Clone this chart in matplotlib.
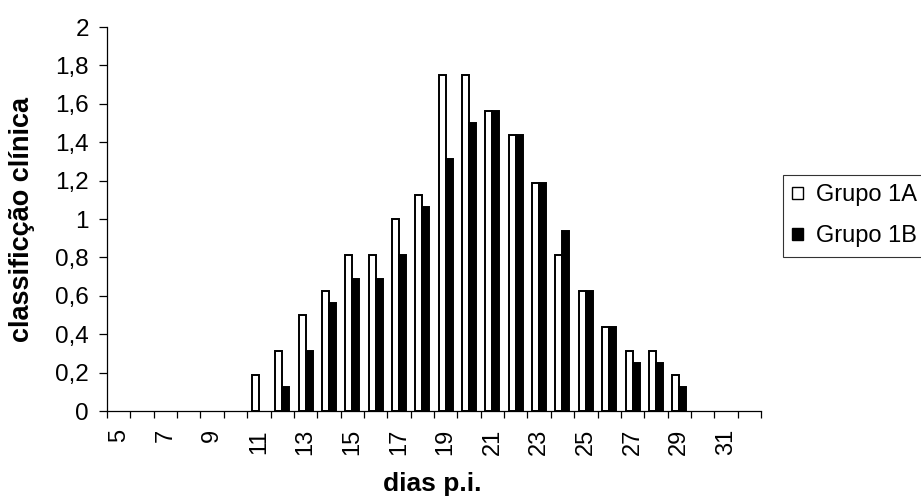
import matplotlib
matplotlib.use('Agg')
import matplotlib.pyplot as plt
from matplotlib.patches import Patch
import numpy as np

plt.rcParams['font.family'] = ['Liberation Sans', 'DejaVu Sans']

dias = list(range(5, 33))
grupo_1a = [0, 0, 0, 0, 0, 0, 0.1875, 0.3125, 0.5, 0.625, 0.8125, 0.8125, 1.0, 1.125,
            1.75, 1.75, 1.5625, 1.4375, 1.1875, 0.8125, 0.625, 0.4375, 0.3125, 0.3125,
            0.1875, 0, 0, 0]
grupo_1b = [0, 0, 0, 0, 0, 0, 0, 0.125, 0.3125, 0.5625, 0.6875, 0.6875, 0.8125, 1.0625,
            1.3125, 1.5, 1.5625, 1.4375, 1.1875, 0.9375, 0.625, 0.4375, 0.25, 0.25,
            0.125, 0, 0, 0]
yticks = [0, 0.2, 0.4, 0.6, 0.8, 1, 1.2, 1.4, 1.6, 1.8, 2]
ytick_labels = ['0', '0,2', '0,4', '0,6', '0,8', '1', '1,2', '1,4', '1,6', '1,8', '2']

fig = plt.figure(figsize=(9.21, 4.98), dpi=100)
ax = fig.add_axes([107 / 921, 1 - 411 / 498, (761 - 107) / 921, (411 - 27) / 498])

x = np.arange(len(dias))
w = 0.3
# no outline for empty days
lw_a = [1.4 if v > 0 else 0 for v in grupo_1a]
lw_b = [1.4 if v > 0 else 0 for v in grupo_1b]
ax.bar(x - w / 2, grupo_1a, w, color='white', edgecolor='black', linewidth=lw_a)
ax.bar(x + w / 2, grupo_1b, w, color='black', edgecolor='black', linewidth=lw_b)

ax.set_xlim(-0.5, len(dias) - 0.5)
ax.set_ylim(0, 2)
ax.spines['top'].set_visible(False)
ax.spines['right'].set_visible(False)
ax.spines['left'].set_linewidth(0.9)
ax.spines['bottom'].set_linewidth(0.9)

ax.set_yticks(yticks)
ax.set_yticklabels(ytick_labels, fontsize=17.5)
ax.tick_params(axis='y', direction='out', length=6, width=0.9, pad=7)

lab_pos = [i for i, d in enumerate(dias) if d % 2 == 1]
ax.set_xticks(lab_pos)
ax.set_xticklabels([str(dias[i]) for i in lab_pos], rotation=90, fontsize=17)
ax.tick_params(axis='x', which='major', length=0, pad=13)
ax.set_xticks(np.arange(len(dias) + 1) - 0.5, minor=True)
ax.tick_params(axis='x', which='minor', direction='out', length=5, width=0.9)

ax.set_xlabel('dias p.i.', fontsize=19, fontweight='bold')
ax.xaxis.set_label_coords(0.498, -(472 - 411) / 384)
ax.set_ylabel('classificção clínica', fontsize=19.5, fontweight='bold')
ax.yaxis.set_label_coords(-(107 - 35) / 654, 0.5)

handles = [Patch(facecolor='white', edgecolor='black', linewidth=1.0, label='Grupo 1A'),
           Patch(facecolor='black', edgecolor='black', linewidth=1.0, label='Grupo 1B')]
leg = fig.legend(handles=handles, loc='upper left', bbox_to_anchor=(783 / 921, 1 - 175 / 498),
                 fontsize=17, frameon=True, fancybox=False, edgecolor='black',
                 handlelength=0.45, handleheight=0.45, handletextpad=0.55, borderpad=0.4,
                 labelspacing=0.8, borderaxespad=0)
leg.get_frame().set_linewidth(0.8)

fig.savefig('out.png', dpi=100)
